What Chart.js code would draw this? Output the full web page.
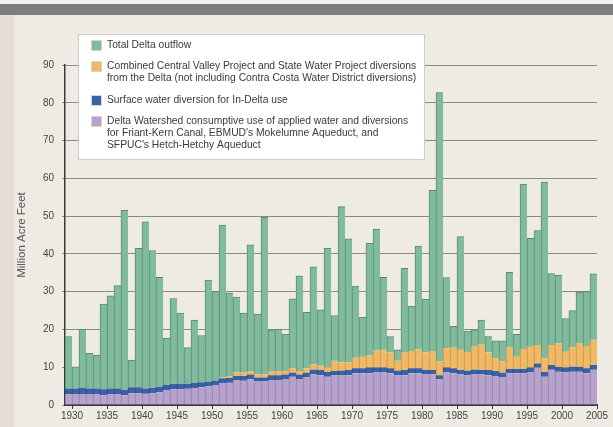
<!DOCTYPE html>
<html>
<head>
<meta charset="utf-8">
<script src="https://cdn.jsdelivr.net/npm/chart.js@4.4.0/dist/chart.umd.min.js"></script>
<style>
  html, body { margin: 0; padding: 0; background: #e6e1d8; }
  #wrap { width: 613px; height: 427px; }
</style>
</head>
<body>
<div id="wrap"><canvas id="chart" width="613" height="427"></canvas></div>
<script>
/* Delta water budget, 1930-2005: stacked annual bars (million acre-feet).
   Values. */

const YEARS = [
  1930, 1931, 1932, 1933, 1934, 1935, 1936, 1937, 1938, 1939,
  1940, 1941, 1942, 1943, 1944, 1945, 1946, 1947, 1948, 1949,
  1950, 1951, 1952, 1953, 1954, 1955, 1956, 1957, 1958, 1959,
  1960, 1961, 1962, 1963, 1964, 1965, 1966, 1967, 1968, 1969,
  1970, 1971, 1972, 1973, 1974, 1975, 1976, 1977, 1978, 1979,
  1980, 1981, 1982, 1983, 1984, 1985, 1986, 1987, 1988, 1989,
  1990, 1991, 1992, 1993, 1994, 1995, 1996, 1997, 1998, 1999,
  2000, 2001, 2002, 2003, 2004, 2005,
];

// bottom segment: watershed consumptive use + Friant-Kern / Mokelumne / Hetch-Hetchy
const WATERSHED_USE = [
  2.8, 2.8, 2.9, 2.9, 2.9, 2.6, 2.8, 2.8, 2.6, 3.1,
  3.1, 3.0, 3.1, 3.4, 4.0, 4.2, 4.2, 4.3, 4.4, 4.7,
  4.9, 5.3, 5.7, 5.9, 6.6, 6.4, 6.8, 6.2, 6.2, 6.6,
  6.6, 6.9, 7.5, 6.9, 7.3, 8.1, 7.9, 7.5, 7.8, 7.8,
  7.9, 8.4, 8.4, 8.4, 8.6, 8.6, 8.4, 7.8, 7.9, 8.4,
  8.4, 8.1, 8.1, 6.8, 8.6, 8.4, 8.1, 7.8, 8.1, 8.1,
  7.9, 7.7, 7.4, 8.4, 8.4, 8.4, 8.6, 9.9, 7.5, 9.3,
  8.8, 8.6, 8.8, 8.8, 8.4, 9.3,
];

const IN_DELTA_USE = [
  1.6, 1.6, 1.6, 1.5, 1.5, 1.6, 1.6, 1.6, 1.5, 1.6,
  1.6, 1.4, 1.4, 1.5, 1.3, 1.4, 1.5, 1.4, 1.4, 1.3,
  1.3, 1.2, 1.4, 1.3, 1.1, 1.3, 1.3, 1.1, 1.1, 1.3,
  1.3, 1.2, 1.1, 1.2, 1.3, 1.3, 1.4, 1.3, 1.2, 1.3,
  1.4, 1.3, 1.3, 1.5, 1.3, 1.3, 1.3, 1.3, 1.4, 1.3,
  1.3, 1.2, 1.2, 1.1, 1.3, 1.3, 1.2, 1.3, 1.3, 1.2,
  1.4, 1.3, 1.2, 1.1, 1.1, 1.2, 1.3, 1.1, 1.3, 1.3,
  1.3, 1.3, 1.4, 1.3, 1.3, 1.3,
];

const CVP_SWP_EXPORTS = [
  0, 0, 0, 0, 0, 0, 0, 0, 0, 0,
  0, 0, 0, 0, 0, 0, 0, 0, 0, 0,
  0, 0, 0.2, 0.4, 0.9, 0.9, 0.8, 0.8, 0.8, 1.1,
  1.0, 0.9, 1.3, 0.9, 1.1, 1.4, 1.1, 1.2, 2.7, 2.2,
  2.0, 2.8, 3.1, 3.2, 4.5, 4.7, 4.2, 2.6, 4.7, 4.6,
  5.0, 4.6, 5.0, 3.6, 5.1, 5.6, 5.3, 4.9, 6.2, 6.7,
  4.6, 3.4, 2.9, 5.8, 3.3, 5.2, 5.5, 4.9, 3.6, 5.3,
  6.2, 4.2, 5.1, 6.2, 5.9, 6.7,
];

const DELTA_OUTFLOW = [
  13.7, 5.7, 15.5, 9.3, 8.8, 22.5, 24.5, 27.2, 47.4, 7.2,
  36.8, 44.1, 36.4, 28.9, 12.4, 22.6, 18.6, 9.5, 16.7, 12.4,
  26.9, 23.5, 40.3, 22.1, 20.0, 15.7, 33.5, 16.0, 41.6, 10.9,
  11.1, 9.8, 18.2, 25.2, 14.8, 25.8, 14.8, 31.5, 12.0, 41.2,
  32.7, 19.0, 10.4, 29.7, 32.2, 19.2, 4.2, 2.9, 22.2, 11.9,
  27.4, 14.1, 42.5, 71.2, 18.7, 5.5, 30.0, 5.6, 4.3, 6.5,
  4.2, 4.6, 5.5, 19.8, 5.9, 43.7, 28.7, 30.3, 46.6, 18.9,
  18.0, 8.8, 9.7, 13.6, 14.4, 17.4,
];

const Y_TICKS = [0, 10, 20, 30, 40, 50, 60, 70, 80, 90];

const COLORS = {
  outflow: "#80bb9d", outflowEdge: "#5b8b72",
  exports: "#f0b967", exportsEdge: "#c7954c",
  inDelta: "#3b61a6", inDeltaEdge: "#2a4a82",
  watershed: "#b6a2cc", watershedEdge: "#9080a8",
  grid: "#8e8981",
  axis: "#3a3a3a",
  text: "#444",
};

// legend text, top to bottom, as laid out in the boxed key
const LEGEND = [
  { color: COLORS.outflow, lines: ["Total Delta outflow"] },
  { color: COLORS.exports, lines: [
    "Combined Central Valley Project and State Water Project diversions",
    "from the Delta (not including Contra Costa Water District diversions)"] },
  { color: COLORS.inDelta, lines: ["Surface water diversion for In-Delta use"] },
  { color: COLORS.watershed, lines: [
    "Delta Watershed consumptive use of applied water and diversions",
    "for Friant-Kern Canal, EBMUD's Mokelumne Aqueduct, and",
    "SFPUC's Hetch-Hetchy Aqueduct"] },
];

const FONT = "'Liberation Sans', Arial, sans-serif";

/* ---------- plugins ---------- */

const backdrop = {
  id: "backdrop",
  beforeDraw(chart) {
    const { ctx, width, height } = chart;
    ctx.save();
    ctx.fillStyle = "#e4ded4";
    ctx.fillRect(0, 0, width, height);
    ctx.fillStyle = "#eeebe5";
    ctx.fillRect(14, 15, width - 14, height - 15);
    ctx.fillStyle = "#f4f2ee";
    ctx.fillRect(0, 0, width, 4);
    ctx.fillStyle = "#7d7d7d";
    ctx.fillRect(0, 4, width, 11);
    ctx.restore();
  },
};

const boxLegend = {
  id: "boxLegend",
  afterDraw(chart) {
    const ctx = chart.ctx;
    ctx.save();
    ctx.fillStyle = "#ffffff";
    ctx.fillRect(78, 34, 346, 125);
    ctx.strokeStyle = "#cfcac2";
    ctx.lineWidth = 1;
    ctx.strokeRect(78.5, 34.5, 346, 125);
    ctx.font = "10.3px " + FONT;
    ctx.textBaseline = "middle";
    ctx.textAlign = "left";
    const rowTop = [45, 66, 100, 121];
    LEGEND.forEach((item, i) => {
      const y0 = rowTop[i];
      ctx.fillStyle = item.color;
      ctx.fillRect(91, y0 - 5, 10, 10);
      ctx.strokeStyle = "#d8d3cb";
      ctx.strokeRect(91.5, y0 - 4.5, 10, 10);
      ctx.fillStyle = "#3a3a3a";
      item.lines.forEach((t, k) => ctx.fillText(t, 107, y0 + k * 12));
    });
    ctx.restore();
  },
};

/* ---------- chart ---------- */

function seg(label, data, fill, edge, top) {
  return {
    label, data,
    backgroundColor: fill,
    borderColor: edge,
    borderWidth: { left: 1, right: 0, top: top ? 1 : 0, bottom: 0 },
    borderSkipped: false,
    barPercentage: 1,
    categoryPercentage: 1,
  };
}

new Chart(document.getElementById("chart"), {
  type: "bar",
  data: {
    labels: YEARS,
    datasets: [
      seg("Delta Watershed consumptive use", WATERSHED_USE, COLORS.watershed, COLORS.watershedEdge, false),
      seg("Surface water diversion for In-Delta use", IN_DELTA_USE, COLORS.inDelta, COLORS.inDeltaEdge, false),
      seg("CVP and SWP diversions", CVP_SWP_EXPORTS, COLORS.exports, COLORS.exportsEdge, false),
      seg("Total Delta outflow", DELTA_OUTFLOW, COLORS.outflow, COLORS.outflowEdge, true),
    ],
  },
  options: {
    responsive: false,
    animation: false,
    devicePixelRatio: 1,
    layout: { padding: { top: 65, right: 16, left: 0, bottom: 0 } },
    plugins: { legend: { display: false }, tooltip: { enabled: false } },
    scales: {
      x: {
        stacked: true,
        offset: true,
        grid: {
          offset: true,
          drawOnChartArea: false,
          tickLength: 4,
          lineWidth: 1,
          // tick marks sit on the right edge of every fifth bar
          color: c => (c.index === undefined || (c.index - 1) % 5 === 0) ? COLORS.axis : "rgba(0,0,0,0)",
        },
        border: { color: COLORS.axis, width: 2 },
        ticks: {
          autoSkip: false,
          maxRotation: 0,
          labelOffset: 3.5,
          padding: 1,
          color: COLORS.text,
          font: { family: FONT, size: 10 },
          callback: (v, i) => (YEARS[i] % 5 === 0 ? String(YEARS[i]) : ""),
        },
        afterFit: s => { s.height = 22; },
      },
      y: {
        stacked: true,
        min: 0,
        max: 90,
        afterBuildTicks: s => { s.ticks = Y_TICKS.map(v => ({ value: v })); },
        ticks: { padding: 8, color: COLORS.text, font: { family: FONT, size: 10 } },
        grid: { color: COLORS.grid, tickLength: 3, lineWidth: 1 },
        border: { color: COLORS.axis, width: 1.5 },
        title: {
          display: true,
          text: "Million Acre Feet",
          color: "#555",
          font: { family: FONT, size: 11.5 },
          padding: { top: 15, bottom: 0 },
        },
        afterFit: s => { s.width = 65; },
      },
    },
  },
  plugins: [backdrop, boxLegend],
});
</script>
</body>
</html>
